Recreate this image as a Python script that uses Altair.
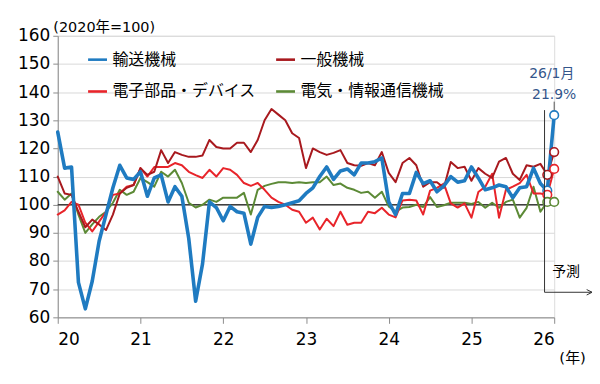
import altair as alt
import pandas as pd

# ---- data (monthly index, Jan 2020 = 0 ... Jan 2026 = 72) ----
series_names = ["輸送機械", "一般機械", "電子部品・デバイス", "電気・情報通信機械"]
series_colors = ["#1F7BC1", "#A8191E", "#E8242A", "#5C8A36"]
series_widths = [3.6, 2.0, 2.0, 2.0]

transport = [
    125.8, 113, 113.4, 72.4, 63, 72.8, 87, 96.5, 106, 114, 109.5, 109,
    111.7, 103, 109.5, 110.6, 101, 106.4, 103, 88, 65.7, 79, 101, 99,
    94.3, 99.4, 97.5, 97, 86, 95.5, 99.4, 99, 99.4, 100, 100.7, 101.4,
    104, 106, 110, 113.4, 109, 112, 112.7, 110.6, 114.8, 114.8, 115.3, 116.6,
    101, 96.5, 104, 104, 111.5, 107.5, 108.5, 104.6, 106.7, 110, 108, 108.5,
    113.4, 109.5, 105.3, 106, 107, 106.4, 102.5, 106, 106.4, 113, 107.5, 105,
    131.8]
general = [
    110, 104, 103.5, 97.5, 92, 94.7, 93, 91, 96.5, 104, 106, 107,
    113, 110.6, 111.7, 119.4, 114.8, 118.7, 117.7, 117, 117, 117.5, 123, 120.5,
    120, 120, 122, 122, 118.7, 123, 130, 134, 132, 130, 125.4, 123.7,
    113, 120, 118.7, 117.7, 118.4, 119.4, 114.8, 114, 113.8, 114.8, 114, 118.7,
    111.3, 108, 114.8, 116.6, 114, 106.4, 108, 108, 106, 115.2, 113, 113.5,
    108.5, 113, 111, 109.5, 115.3, 116.6, 111, 108.8, 114, 113.5, 114.5, 110.6,
    118.7]
electronic = [
    96.5, 98, 101, 100, 93.6, 90.5, 94, 97.5, 103.5, 104, 106.4, 107,
    113, 110, 113.4, 113.4, 113.4, 114.8, 114, 111.7, 110.5, 109.5, 112.4, 110,
    113, 112.4, 110.6, 107.7, 106.7, 107.7, 105.3, 102.5, 101, 100, 98.2, 97.5,
    93.6, 95.4, 91.2, 95, 92.4, 97.5, 92.9, 93.6, 93.6, 97.5, 97, 98.9,
    96.5, 95.5, 101.5, 101.8, 101.5, 96.5, 105, 106, 107.5, 100.5, 99, 100.5,
    95.4, 104.5, 106.4, 111, 95.4, 105.3, 106.4, 107.7, 110.6, 104, 104, 103.5,
    112.7]
electric = [
    104.6, 101.8, 104, 96.5, 90, 93, 95.7, 97.5, 100.7, 105.3, 103.5, 104.6,
    109.5, 108, 106.4, 111.7, 110, 112.4, 107.7, 100.7, 99, 100, 101.8, 101,
    102.5, 102.5, 102.5, 104.2, 96.5, 105.3, 106.7, 107.4, 108, 108, 107.7, 108,
    107.7, 108, 108, 110, 107, 107.5, 106, 105.3, 104.2, 104.6, 102.5, 104.6,
    99.4, 97.5, 99, 99.2, 100, 99.2, 102.7, 99.2, 99.8, 100.7, 100.7, 100.7,
    100.3, 101, 98.9, 100.7, 98.9, 101, 101.8, 95.4, 98.9, 106.4, 97.5, 101,
    101]

year_ticks = [0, 12, 24, 36, 48, 60, 72]
y_ticks = [60, 70, 80, 90, 100, 110, 120, 130, 140, 150, 160]
forecast_start = 70.6       # month index where forecast bracket begins
annot_label = "26/1月"
annot_value = "21.9%"
forecast_label = "予測"

all_values = [transport, general, electronic, electric]
rows = []
for name, vals in zip(series_names, all_values):
    for i, v in enumerate(vals):
        rows.append({"m": i, "v": v, "series": name})
df = pd.DataFrame(rows)

NUM_FONT = "DejaVu Sans"
JP_FONT = "Noto Sans CJK JP"
MIX_FONT = "DejaVu Sans, Noto Sans CJK JP"
ANNOT_COLOR = "#34568B"

color_scale = alt.Scale(domain=series_names, range=series_colors)
x_scale = alt.Scale(domain=[0, 72], nice=False, zero=False)
y_scale = alt.Scale(domain=[60, 160], nice=False, zero=False)

x_axis = alt.Axis(values=year_ticks, labelExpr="format(20 + datum.value / 12, 'd')",
                  grid=False, domainColor="#8C8C8C", tickColor="#8C8C8C", tickSize=6,
                  labelFont=NUM_FONT, labelFontSize=17, labelColor="#000000", labelPadding=8,
                  labelOverlap=False,
                  title="(年)", titleFont=MIX_FONT, titleFontSize=15, titleFontWeight="normal",
                  titleColor="#000000", titleX=517, titleY=40, titleAlign="center",
                  titleBaseline="middle", titleAnchor="start")
y_axis = alt.Axis(values=y_ticks, grid=True, gridColor="#D9D9D9", gridWidth=1,
                  domainColor="#8C8C8C", tickColor="#8C8C8C", tickSize=5,
                  labelFont=NUM_FONT, labelFontSize=17, labelColor="#000000", labelPadding=3,
                  labelOverlap=False, labelFlush=False,
                  title="(2020年=100)", titleFont=MIX_FONT, titleFontSize=14.5,
                  titleFontWeight="normal", titleColor="#000000", titleAngle=0,
                  titleX=-5, titleY=-8, titleAlign="left", titleBaseline="middle",
                  titleAnchor="start")


def X(field):
    return alt.X(field, scale=x_scale, axis=x_axis)


def Y(field):
    return alt.Y(field, scale=y_scale, axis=y_axis)


legend = alt.Legend(
    title=None, orient="none", legendX=29, legendY=13, columns=2, direction="horizontal",
    symbolType="stroke", symbolSize=361, symbolStrokeWidth=2.6,
    labelFont=JP_FONT, labelFontSize=16, labelColor="#000000", labelOffset=4,
    columnPadding=14, rowPadding=13, labelLimit=300)

base = alt.Chart(df)

# reference line at 100
ref = alt.Chart(pd.DataFrame({"y": [100]})).mark_rule(color="#404040", strokeWidth=1.5).encode(
    y=Y("y:Q"))

layers = [ref]
# draw order: green, red, dark red, blue on top
for name, w in reversed(list(zip(series_names, series_widths))):
    layers.append(
        base.transform_filter(alt.datum.series == name).mark_line(
            strokeWidth=w, strokeJoin="round", strokeCap="round").encode(
            x=X("m:Q"),
            y=Y("v:Q"),
            color=alt.Color("series:N", scale=color_scale, legend=legend),
        )
    )

points = base.transform_filter(alt.datum.m >= 71).mark_point(
    shape="circle", filled=False, fill="white", fillOpacity=1, opacity=1,
    size=75, strokeWidth=1.6).encode(
    x=X("m:Q"),
    y=Y("v:Q"),
    stroke=alt.Stroke("series:N", scale=alt.Scale(domain=series_names, range=series_colors),
                      legend=None),
)
layers.append(points)

# forecast bracket
fc = pd.DataFrame({"x": [forecast_start], "x2": [77.5], "ytop": [133.6], "ybot": [68.9]})
vline = alt.Chart(fc).mark_rule(color="#333333", strokeWidth=1).encode(
    x=X("x:Q"), y=Y("ytop:Q"), y2="ybot:Q")
hline = alt.Chart(fc).mark_rule(color="#333333", strokeWidth=1).encode(
    x=X("x:Q"), x2="x2:Q", y=Y("ybot:Q"))
arrow = alt.Chart(fc).mark_point(
    shape="M-2,-1L0,0L-2,1", filled=False, color="#333333", strokeWidth=1, size=30,
    opacity=1).encode(x=X("x2:Q"), y=Y("ybot:Q"))
fc_text = alt.Chart(pd.DataFrame({"x": [71.7], "y": [76.0], "t": [forecast_label]})).mark_text(
    font=JP_FONT, fontSize=14, align="left", baseline="middle", color="#000000").encode(
    x=X("x:Q"), y=Y("y:Q"), text="t:N")

# annotation for Jan 2026
ann = pd.DataFrame({"x": [71.65, 72.0], "y": [146.3, 138.9], "t": [annot_label, annot_value]})
ann_text = alt.Chart(ann).mark_text(
    font=MIX_FONT, fontSize=14, align="center", baseline="middle", color=ANNOT_COLOR).encode(
    x=X("x:Q"), y=Y("y:Q"), text="t:N")
ann_line = alt.Chart(pd.DataFrame({"x": [72], "y": [136.6], "y2": [133.6]})).mark_rule(
    color="#555555", strokeWidth=1).encode(
    x=X("x:Q"), y=Y("y:Q"), y2="y2:Q")

layers += [vline, hline, arrow, fc_text, ann_line, ann_text]

chart = alt.layer(*layers).properties(
    width=499, height=283,
    autosize=alt.AutoSizeParams(type="none"),
    padding={"left": 50, "top": 27, "right": 38, "bottom": 50},
).configure_view(stroke=None).configure(background="white")

chart.save("out.html", embed_options={"renderer": "svg", "actions": False})
